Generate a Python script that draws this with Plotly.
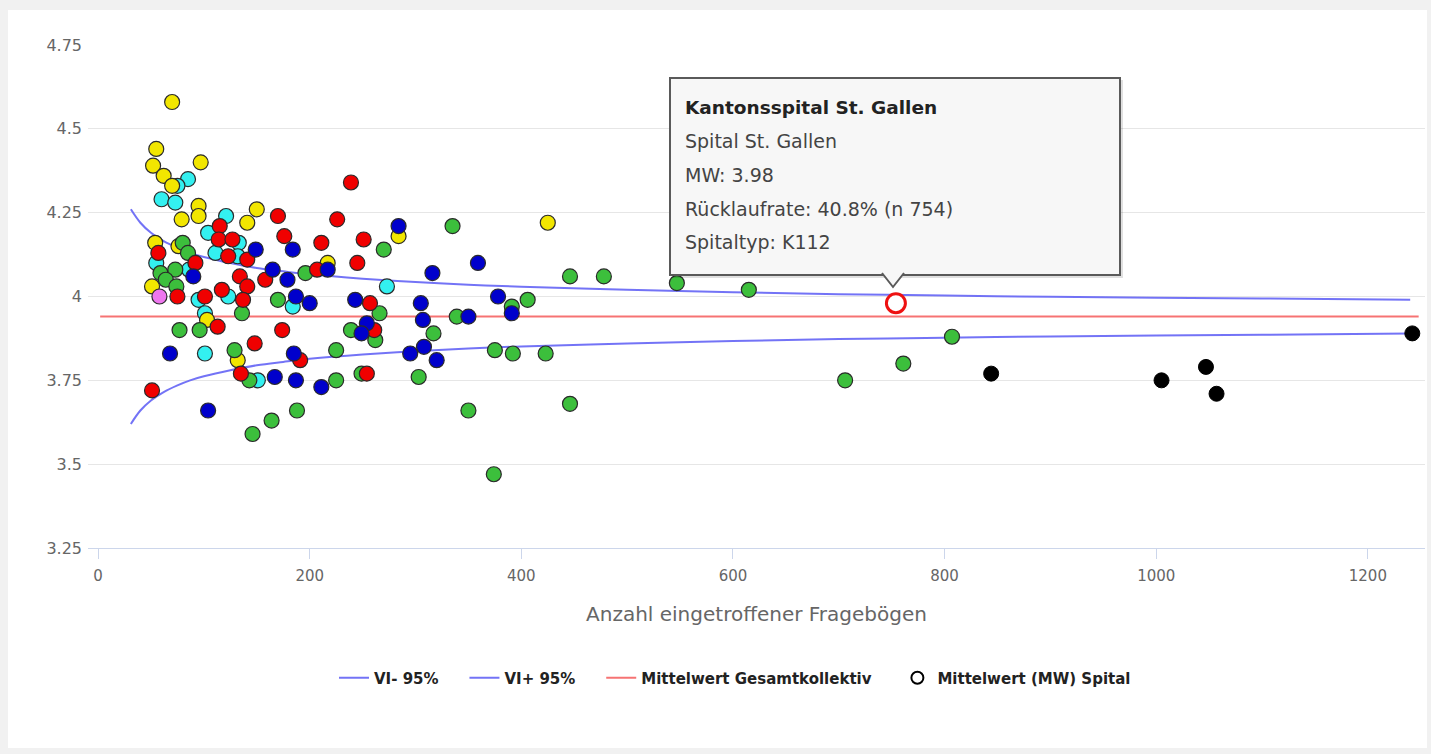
import plotly.graph_objects as go

# ---------------- data ----------------
yellow_x = [70, 55, 52, 62, 70, 97, 95, 95, 79, 150, 141, 54, 76, 51, 103, 132, 217, 284, 425]
yellow_y = [4.58, 4.44, 4.39, 4.36, 4.33, 4.40, 4.27, 4.24, 4.23, 4.26, 4.22, 4.16, 4.15, 4.03, 3.93, 3.81, 4.10, 4.18, 4.22]

cyan_x = [85, 75, 60, 73, 121, 104, 133, 111, 132, 55, 86, 95, 123, 101, 101, 151, 184, 273]
cyan_y = [4.35, 4.33, 4.29, 4.28, 4.24, 4.19, 4.16, 4.13, 4.12, 4.10, 4.08, 3.99, 4.00, 3.95, 3.83, 3.75, 3.97, 4.03]

green_x = [80, 85, 59, 73, 64, 74, 77, 96, 136, 129, 143, 146, 164, 188, 170, 196, 270, 335, 225, 225,
           239, 249, 266, 262, 303, 317, 339, 350, 374, 375, 391, 392, 406, 423, 446, 446, 478, 547, 615,
           706, 761, 807]
green_y = [4.16, 4.13, 4.07, 4.08, 4.05, 4.03, 3.90, 3.90, 3.95, 3.84, 3.75, 3.59, 3.63, 3.66, 3.99, 4.07, 4.14, 4.21, 3.84, 3.75,
           3.90, 3.77, 3.95, 3.87, 3.76, 3.89, 3.94, 3.66, 3.47, 3.84, 3.97, 3.83, 3.99, 3.83, 3.68, 4.06, 4.06, 4.04, 4.02,
           3.75, 3.80, 3.88]

red_x = [239, 226, 251, 170, 176, 211, 245, 207, 115, 114, 127, 123, 141, 57, 92, 134, 158, 141, 137, 117,
         75, 101, 113, 174, 148, 135, 51, 191, 257, 261, 254]
red_y = [4.34, 4.23, 4.17, 4.24, 4.18, 4.16, 4.10, 4.08, 4.21, 4.17, 4.17, 4.12, 4.11, 4.13, 4.10, 4.06, 4.05, 4.03, 3.99, 4.02,
         4.00, 4.00, 3.91, 3.90, 3.86, 3.77, 3.72, 3.81, 3.98, 3.90, 3.77]

blue_x = [90, 68, 104, 149, 184, 165, 179, 217, 187, 200, 185, 187, 167, 211, 243, 254, 249, 284, 295, 305,
          307, 308, 320, 316, 350, 359, 378, 391]
blue_y = [4.06, 3.83, 3.66, 4.14, 4.14, 4.08, 4.05, 4.08, 4.00, 3.98, 3.83, 3.75, 3.76, 3.73, 3.99, 3.92, 3.89, 4.21, 3.83, 3.98,
          3.93, 3.85, 3.81, 4.07, 3.94, 4.10, 4.00, 3.95]

pink_x = [58]
pink_y = [4.00]

black_x = [844, 1005, 1047, 1057, 1242]
black_y = [3.77, 3.75, 3.79, 3.71, 3.89]

selected_x = [754]
selected_y = [3.98]

ci_x = [31, 40, 50, 62, 75, 87, 100, 125, 150, 175, 200, 250, 300, 350, 400, 500, 600, 700, 800, 900, 1000, 1100, 1240]
ci_upper = [4.26, 4.22, 4.19, 4.165, 4.145, 4.13, 4.118, 4.10, 4.085, 4.075, 4.066, 4.053, 4.043, 4.035, 4.029, 4.02,
            4.013, 4.007, 4.003, 3.999, 3.996, 3.994, 3.99]
ci_lower = [3.62, 3.66, 3.69, 3.715, 3.735, 3.75, 3.762, 3.78, 3.795, 3.805, 3.814, 3.827, 3.837, 3.845, 3.851, 3.86,
            3.867, 3.873, 3.877, 3.881, 3.884, 3.886, 3.89]

mean_x = [2, 1248]
mean_y = [3.94, 3.94]

x_ticks = [0, 200, 400, 600, 800, 1000, 1200]
y_ticks = [3.25, 3.5, 3.75, 4, 4.25, 4.5, 4.75]
y_tick_text = ["3.25", "3.5", "3.75", "4", "4.25", "4.5", "4.75"]

series_names = ["VI- 95%", "VI+ 95%", "Mittelwert Gesamtkollektiv", "Mittelwert (MW) Spital"]

tooltip_lines = ["<b>Kantonsspital St. Gallen</b>", "Spital St. Gallen", "MW: 3.98",
                 "Rücklaufrate: 40.8% (n 754)", "Spitaltyp: K112"]

# ---------------- layout helpers ----------------
W, H = 1431, 754
PL, PR, PT, PB = 88, 1425, 45, 548


def px(x):
    return (x - PL) / (PR - PL)


def py(y):
    return (PB - y) / (PB - PT)


FONT = "DejaVu Sans"
PAD = "\u00a0" * 4  # spacing after legend entries

fig = go.Figure()

fig.add_trace(go.Scatter(x=ci_x, y=ci_lower, mode="lines", name=series_names[0] + PAD,
                         line=dict(color="rgba(100,100,245,0.9)", width=2, shape="spline"), hoverinfo="skip"))
fig.add_trace(go.Scatter(x=ci_x, y=ci_upper, mode="lines", name=series_names[1] + PAD,
                         line=dict(color="rgba(100,100,245,0.9)", width=2, shape="spline"), hoverinfo="skip"))
fig.add_trace(go.Scatter(x=mean_x, y=mean_y, mode="lines", name=series_names[2] + PAD,
                         line=dict(color="rgba(245,100,100,0.9)", width=2), hoverinfo="skip"))

groups = [
    (cyan_x, cyan_y, "#33f0f0"),
    (yellow_x, yellow_y, "#f2e600"),
    (green_x, green_y, "#3cbf3c"),
    (red_x, red_y, "#f00000"),
    (blue_x, blue_y, "#0000cc"),
    (pink_x, pink_y, "#ee77ee"),
]
for gx, gy, col in groups:
    fig.add_trace(go.Scatter(x=gx, y=gy, mode="markers", showlegend=False, hoverinfo="skip",
                             marker=dict(size=15, color=col, line=dict(color="#2a2a2a", width=1.2))))
fig.add_trace(go.Scatter(x=black_x, y=black_y, mode="markers", showlegend=False, hoverinfo="skip",
                         marker=dict(size=15, color="#000000", line=dict(color="#000000", width=1))))
fig.add_trace(go.Scatter(x=selected_x, y=selected_y, mode="markers", showlegend=False, hoverinfo="skip",
                         marker=dict(size=19, color="#ffffff", line=dict(color="#ee1111", width=3))))
# legend entry for the hospital series
fig.add_trace(go.Scatter(x=[None], y=[None], mode="markers", name=series_names[3],
                         marker=dict(size=12, color="#ffffff", line=dict(color="#000000", width=2))))

shapes = [
    # white card
    dict(type="rect", xref="paper", yref="paper", x0=px(8), x1=px(1427), y0=py(748), y1=py(10),
         fillcolor="white", line=dict(width=0), layer="below"),
    # tooltip shadow
    dict(type="rect", xref="paper", yref="paper", x0=px(672), x1=px(1123), y0=py(278), y1=py(80),
         fillcolor="rgba(0,0,0,0.12)", line=dict(width=0), layer="above"),
    # tooltip box
    dict(type="rect", xref="paper", yref="paper", x0=px(670), x1=px(1120), y0=py(275), y1=py(78),
         fillcolor="#f7f7f7", line=dict(color="#5a5a5a", width=2), layer="above"),
    # caret
    dict(type="path", xref="paper", yref="paper",
         path=f"M {px(882)} {py(273)} L {px(893)} {py(287)} L {px(904)} {py(273)}",
         fillcolor="#f7f7f7", line=dict(color="#5a5a5a", width=2), layer="above"),
]

annotations = []
line_y = [107, 141, 175, 209, 242]
for i, (t, yy) in enumerate(zip(tooltip_lines, line_y)):
    annotations.append(dict(xref="paper", yref="paper", x=px(683), y=py(yy), text=t, showarrow=False,
                            xanchor="left", yanchor="middle",
                            font=dict(family=FONT, size=18.5 if i == 0 else 19,
                                      color="#222" if i == 0 else "#444")))

fig.update_layout(
    width=W, height=H,
    margin=dict(l=PL, r=W - PR, t=PT, b=H - PB),
    paper_bgcolor="#f1f1f1",
    plot_bgcolor="white",
    font=dict(family=FONT, color="#666666"),
    showlegend=True,
    legend=dict(orientation="h", x=px(735), xanchor="center", y=py(678), yanchor="middle",
                font=dict(family=FONT, size=15, color="#222", weight="bold"),
                bgcolor="rgba(0,0,0,0)", itemwidth=30),
    shapes=shapes,
    annotations=annotations,
    xaxis=dict(range=[-9.5, 1254], tickvals=x_ticks, showgrid=False, zeroline=False,
               showline=True, linecolor="#ccd6eb", linewidth=1,
               ticks="outside", ticklen=10, tickcolor="#ccd6eb",
               tickfont=dict(family=FONT, size=15, color="#666666"), ticklabelstandoff=4,
               title=dict(text="Anzahl eingetroffener Fragebögen", standoff=22,
                          font=dict(family=FONT, size=20, color="#666666"))),
    yaxis=dict(range=[3.25, 4.75], tickvals=y_ticks, ticktext=y_tick_text, showgrid=True,
               gridcolor="#e6e6e6", gridwidth=1, zeroline=False, showline=False,
               tickfont=dict(family=FONT, size=16, color="#666666"), ticklabelstandoff=5),
)

fig.write_html("out.html", config={"displayModeBar": False},
               post_script="document.body.style.margin='0';document.body.style.background='#f1f1f1';")
